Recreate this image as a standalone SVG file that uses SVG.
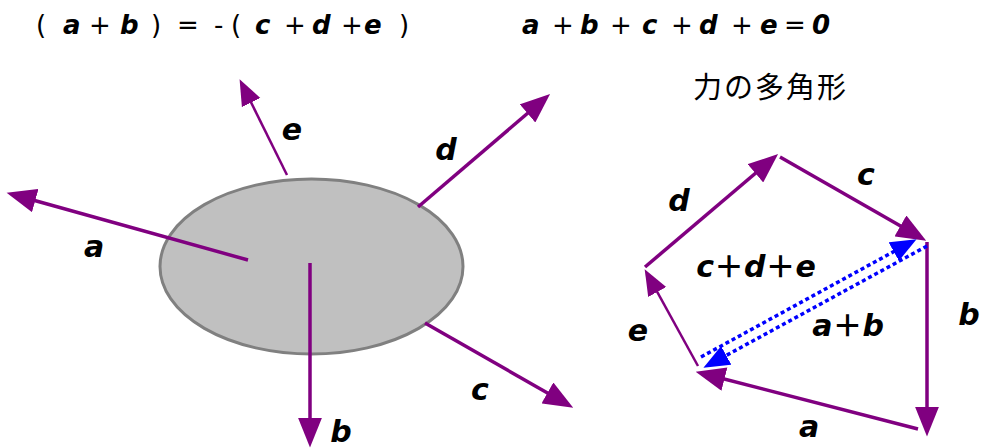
<svg xmlns="http://www.w3.org/2000/svg" width="983" height="448" viewBox="0 0 983 448">
<style>
.f{fill:none;stroke:#800080;stroke-width:3.5}
.t{fill:none;stroke:#800080;stroke-width:2.5}
.bl{fill:none;stroke:#0000ff;stroke-width:3.5;stroke-dasharray:4 3}
.lab{font-family:"DejaVu Sans",sans-serif;font-weight:bold;font-style:italic;font-size:30px;fill:#000;text-anchor:middle}
.eq{font-family:"DejaVu Sans",sans-serif;font-size:26px;fill:#000}
.v{font-weight:bold;font-style:italic}
.cjk{font-family:"Noto Sans CJK JP",sans-serif;font-size:29px;fill:#000;letter-spacing:2px}
.fp{font-family:"Noto Sans CJK JP",sans-serif;font-style:normal}
</style>
<defs>
<marker id="ah" markerUnits="userSpaceOnUse" markerWidth="30" markerHeight="24" refX="16" refY="10.5" orient="auto" viewBox="0 0 26 21">
<path d="M0,0 L26,10.5 L0,21 z" fill="#800080" stroke="none"/>
</marker>
<marker id="ahs" markerUnits="userSpaceOnUse" markerWidth="26" markerHeight="22" refX="14" refY="9.5" orient="auto" viewBox="0 0 24 19">
<path d="M0,0 L24,9.5 L0,19 z" fill="#800080" stroke="none"/>
</marker>
<marker id="bh" markerUnits="userSpaceOnUse" markerWidth="26" markerHeight="22" refX="12" refY="9" orient="auto" viewBox="0 0 22 18">
<path d="M0,0 L22,9 L0,18 z" fill="#0000ff" stroke="none"/>
</marker>
</defs>
<rect width="983" height="448" fill="#fff"/>

<g id="equations">
<text class="eq" y="34"><tspan x="36">(</tspan><tspan class="v" x="63">a</tspan><tspan x="89">+</tspan><tspan class="v" x="120">b</tspan><tspan x="151">)</tspan><tspan x="177">=</tspan><tspan x="214">-</tspan><tspan x="231">(</tspan><tspan class="v" x="255">c</tspan><tspan x="284">+</tspan><tspan class="v" x="312">d</tspan><tspan x="341">+</tspan><tspan class="v" x="364">e</tspan><tspan x="399">)</tspan></text>
<text class="eq" y="34"><tspan class="v" x="522">a</tspan><tspan x="552">+</tspan><tspan class="v" x="580">b</tspan><tspan x="610">+</tspan><tspan class="v" x="642">c</tspan><tspan x="671">+</tspan><tspan class="v" x="699">d</tspan><tspan x="731">+</tspan><tspan class="v" x="760">e</tspan><tspan x="784">=</tspan><tspan class="v" x="812">0</tspan></text>
<text class="cjk" x="693" y="98">力の多角形</text>
</g>

<g id="body">
<ellipse cx="311.5" cy="266.5" rx="151.5" ry="87.5" fill="#c0c0c0" stroke="#808080" stroke-width="3"/>
</g>

<g id="connectors">
<line class="f" x1="248" y1="260" x2="17.6" y2="195.7" marker-end="url(#ah)"/>
<line class="f" x1="310" y1="263" x2="310" y2="436" marker-end="url(#ah)"/>
<line class="f" x1="425" y1="323" x2="563.3" y2="402" marker-end="url(#ah)"/>
<line class="f" x1="418" y1="207" x2="541.4" y2="101.5" marker-end="url(#ah)"/>
<line class="t" x1="287" y1="175" x2="244.4" y2="89" marker-end="url(#ahs)"/>

<line class="f" x1="645" y1="267" x2="769.4" y2="161.5" marker-end="url(#ah)"/>
<line class="f" x1="780" y1="157" x2="916.3" y2="235" marker-end="url(#ah)"/>
<line class="f" x1="927" y1="242" x2="927" y2="425" marker-end="url(#ah)"/>
<line class="f" x1="918" y1="429" x2="706.7" y2="374.5" marker-end="url(#ah)"/>
<line class="t" x1="698" y1="366" x2="649.9" y2="278.7" marker-end="url(#ahs)"/>

<line class="bl" x1="701" y1="357" x2="906.2" y2="244.8" marker-end="url(#bh)"/>
<line class="bl" x1="927" y1="246" x2="713.8" y2="362.2" marker-end="url(#bh)"/>
</g>

<g id="labels">
<text class="lab" x="292" y="140">e</text>
<text class="lab" x="446" y="160">d</text>
<text class="lab" x="94" y="257">a</text>
<text class="lab" x="480" y="400">c</text>
<text class="lab" x="341" y="442">b</text>

<text class="lab" x="679" y="211">d</text>
<text class="lab" x="866" y="185">c</text>
<text class="lab" x="969" y="325">b</text>
<text class="lab" x="638" y="341">e</text>
<text class="lab" x="809" y="437">a</text>
<text class="lab" x="756" y="277">c<tspan class="fp">＋</tspan>d<tspan class="fp">＋</tspan>e</text>
<text class="lab" x="848" y="336">a<tspan class="fp">＋</tspan>b</text>
</g>
</svg>
